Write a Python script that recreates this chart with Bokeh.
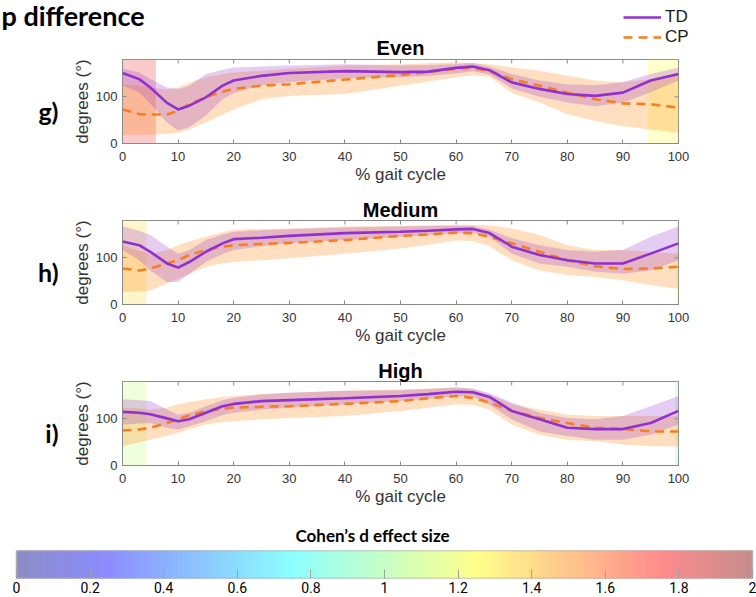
import numpy as np
from bokeh.plotting import figure
from bokeh.models import (Legend, LegendItem, LinearAxis, FixedTicker, Range1d, Label,
                          NumeralTickFormatter, CustomJSTickFormatter, Title)
from bokeh.layouts import column
from bokeh.embed import file_html
from bokeh.resources import INLINE

# ---------------- data ----------------
gait = [0, 3, 5, 8, 10, 12, 15, 18, 20, 25, 30, 40, 50, 55, 60, 63, 66, 70, 75, 80, 85, 90, 95, 100]

even_td_mean = [151, 138, 120, 87, 73, 81, 99, 124, 135, 145, 151, 155, 153, 154, 162, 165, 157, 131, 117, 106, 102, 109, 135, 149]
even_td_hi = [160, 152, 138, 120, 117, 124, 149, 158, 163, 165, 167, 170, 167, 168, 170, 173, 165, 149, 135, 127, 125, 131, 149, 163]
even_td_lo = [124, 110, 85, 45, 28, 35, 60, 95, 108, 125, 132, 140, 142, 145, 150, 155, 148, 118, 100, 88, 80, 88, 110, 135]
even_cp_mean = [73, 63, 62, 62, 70, 84, 99, 111, 117, 124, 127, 137, 147, 153, 160, 162, 155, 138, 124, 109, 95, 86, 84, 77]
even_cp_hi = [127, 124, 120, 115, 120, 130, 142, 149, 152, 156, 160, 167, 170, 172, 174, 172, 170, 163, 156, 145, 135, 131, 138, 149]
even_cp_lo = [19, 19, 19, 21, 23, 30, 45, 62, 73, 95, 102, 106, 124, 133, 142, 146, 143, 109, 88, 63, 48, 37, 30, 23]

medium_td_mean = [135, 127, 113, 88, 79, 91, 113, 131, 140, 143, 147, 153, 156, 158, 161, 162, 153, 124, 106, 95, 88, 88, 109, 131]
medium_td_hi = [167, 158, 149, 124, 109, 117, 138, 150, 156, 159, 161, 165, 167, 168, 169, 168, 160, 142, 127, 117, 113, 117, 145, 167]
medium_td_lo = [117, 95, 73, 48, 48, 66, 91, 108, 117, 125, 131, 138, 145, 149, 153, 154, 145, 109, 88, 81, 70, 66, 73, 95]
medium_cp_mean = [77, 73, 77, 88, 95, 106, 117, 124, 127, 130, 132, 138, 147, 150, 154, 153, 145, 131, 113, 95, 82, 76, 77, 81]
medium_cp_hi = [127, 115, 109, 117, 127, 135, 145, 155, 160, 162, 163, 167, 168, 170, 171, 171, 170, 163, 149, 127, 117, 117, 113, 109]
medium_cp_lo = [27, 28, 30, 45, 55, 65, 81, 88, 91, 95, 99, 109, 120, 128, 137, 136, 125, 95, 73, 63, 59, 52, 41, 34]

high_td_mean = [115, 113, 110, 101, 95, 99, 113, 127, 132, 138, 140, 144, 149, 153, 158, 157, 147, 117, 99, 81, 78, 78, 91, 117]
high_td_hi = [142, 140, 138, 120, 109, 113, 127, 140, 145, 152, 156, 160, 161, 164, 167, 165, 155, 135, 113, 102, 99, 106, 127, 149]
high_td_lo = [88, 90, 91, 81, 77, 84, 95, 108, 113, 120, 124, 131, 138, 143, 149, 149, 130, 99, 73, 63, 55, 55, 66, 88]
high_cp_mean = [75, 77, 81, 91, 99, 107, 117, 122, 124, 126, 127, 132, 138, 144, 149, 145, 135, 117, 102, 91, 81, 78, 73, 73]
high_cp_hi = [124, 122, 120, 124, 131, 136, 142, 147, 149, 153, 156, 160, 163, 165, 167, 164, 152, 131, 120, 109, 106, 106, 106, 106]
high_cp_lo = [41, 50, 55, 63, 70, 78, 88, 93, 95, 99, 102, 106, 117, 124, 131, 130, 120, 88, 66, 55, 52, 45, 41, 41]

# significant regions: start, end, Cohen's d
even_reg_start = [0, 94.4]
even_reg_end = [6, 100]
even_reg_d = [1.8, 1.25]
medium_reg_start = [0, 99.6]
medium_reg_end = [4.3, 100]
medium_reg_d = [1.35, 1.1]
high_reg_start = [0, 99.4]
high_reg_end = [4.3, 100]
high_reg_d = [1.1, 0.95]

x_ticks = [0, 10, 20, 30, 40, 50, 60, 70, 80, 90, 100]
y_ticks = [0, 100]
cb_ticks = [0, 0.2, 0.4, 0.6, 0.8, 1.0, 1.2, 1.4, 1.6, 1.8, 2.0]
D_MIN, D_MAX = 0, 2

TD_COLOR = "#9030d0"
CP_COLOR = "#f57f20"
AX_GRAY = "#8a8a8a"
LBL = "#333333"
FONT = "Liberation Sans"
XMAX, YMAX = 100, 180
W = 756


def jet(v, alpha):
    x = min(max(v / 2.0, 0.0), 1.0)
    r = min(max(1.5 - abs(4 * x - 3), 0.0), 1.0)
    g = min(max(1.5 - abs(4 * x - 2), 0.0), 1.0)
    b = min(max(1.5 - abs(4 * x - 1), 0.0), 1.0)
    c = [int(round(255 * (1 - alpha) + 255 * ch * alpha)) for ch in (r, g, b)]
    return "#%02x%02x%02x" % tuple(c)


def panel_title(text):
    return Title(text=text, align="center", text_font=FONT, text_font_size="20px",
                 text_font_style="bold", text_color="#000000", standoff=0)


def make_panel(title, letter, td_m, td_lo, td_hi, cp_m, cp_lo, cp_hi,
               rs, re_, rd, height, border_top, border_bottom):
    p = figure(width=W, height=height, x_range=Range1d(0, XMAX), y_range=Range1d(0, YMAX),
               output_backend="svg", toolbar_location=None,
               min_border_left=122, min_border_right=78,
               min_border_top=border_top, min_border_bottom=border_bottom)
    if title is not None:
        p.title = panel_title(title)
    else:
        p.title_location = None
    p.grid.visible = False
    p.outline_line_color = AX_GRAY

    # significance shading (Cohen's d colour)
    p.quad(left=rs, right=re_, bottom=0, top=YMAX,
           fill_color=[jet(d, 0.45) for d in rd], fill_alpha=0.45, line_color=None)
    # SD bands
    p.varea(x=gait, y1=cp_lo, y2=cp_hi, fill_color="#ff8000", fill_alpha=0.25)
    p.varea(x=gait, y1=td_lo, y2=td_hi, fill_color="#9933cc", fill_alpha=0.25)
    p.line(gait, cp_m, line_color=CP_COLOR, line_width=2.6, line_dash="9 6")
    p.line(gait, td_m, line_color=TD_COLOR, line_width=2.6)

    for ax in (p.xaxis[0], p.yaxis[0]):
        ax.major_tick_in = 4
        ax.major_tick_out = 0
        ax.minor_tick_line_color = None
        ax.axis_line_color = AX_GRAY
        ax.major_tick_line_color = AX_GRAY
        ax.major_label_text_font = FONT
        ax.major_label_text_font_size = "13px"
        ax.major_label_text_color = LBL
        ax.axis_label_text_font = FONT
        ax.axis_label_text_font_size = "17px"
        ax.axis_label_text_font_style = "normal"
        ax.axis_label_text_color = LBL
    p.xaxis.ticker = FixedTicker(ticks=x_ticks)
    p.yaxis.ticker = FixedTicker(ticks=y_ticks)
    p.xaxis.axis_label = "% gait cycle"
    p.yaxis.axis_label = "degrees (°)"
    p.xaxis.major_label_standoff = 8
    p.xaxis.axis_label_standoff = 1
    p.yaxis.major_label_standoff = 5
    p.yaxis.axis_label_standoff = 1

    # inward ticks on the top and right edges of the box
    p.ray(x=x_ticks, y=YMAX, length=4, angle=-np.pi / 2, length_units="screen",
          line_color=AX_GRAY, line_width=1)
    p.ray(x=XMAX, y=y_ticks, length=4, angle=np.pi, length_units="screen",
          line_color=AX_GRAY, line_width=1)

    # panel letter, drawn as the single label of an outer left axis
    letter_axis = LinearAxis(ticker=FixedTicker(ticks=[70]),
                             formatter=CustomJSTickFormatter(args=dict(t=letter), code="return t;"),
                             axis_line_color=None, major_tick_line_color=None,
                             minor_tick_line_color=None, major_label_standoff=5,
                             major_label_text_font="Lato", major_label_text_font_style="bold",
                             major_label_text_font_size="25px", major_label_text_color="#000000")
    p.add_layout(letter_axis, "left")
    return p


# ---------------- header: heading, legend, first panel title ----------------
HEAD_H = 57
head = figure(width=W, height=HEAD_H, x_range=Range1d(0, W), y_range=Range1d(HEAD_H, 0),
              output_backend="svg", toolbar_location=None, min_border=0,
              min_border_left=0, min_border_right=0, min_border_top=0, min_border_bottom=0)
head.title_location = None
head.axis.visible = False
head.grid.visible = False
head.outline_line_color = None
td_key = head.line(x=[np.nan], y=[np.nan], line_color=TD_COLOR, line_width=2.6)
cp_key = head.line(x=[np.nan], y=[np.nan], line_color=CP_COLOR, line_width=2.6, line_dash="9 6")
legend = Legend(items=[LegendItem(label="TD", renderers=[td_key]),
                       LegendItem(label="CP", renderers=[cp_key])],
                location=(623, 10), border_line_color=None, background_fill_alpha=0,
                label_text_font=FONT, label_text_font_size="17px", label_text_color="#1a1a1a",
                glyph_width=38, glyph_height=20, label_height=20, spacing=0, padding=0,
                margin=0, label_standoff=4)
head.add_layout(legend)
head.add_layout(Label(x=1, y=15, text="p difference", text_font="Lato", text_font_style="bold",
                      text_font_size="27px", text_color="#000000",
                      text_align="left", text_baseline="middle"))
head.add_layout(Label(x=400, y=47, text="Even", text_font=FONT, text_font_style="bold",
                      text_font_size="20px", text_color="#000000",
                      text_align="center", text_baseline="middle"))

pg = make_panel(None, "g)", even_td_mean, even_td_lo, even_td_hi,
                even_cp_mean, even_cp_lo, even_cp_hi,
                even_reg_start, even_reg_end, even_reg_d, 196 - HEAD_H, 2, 53)
ph = make_panel("Medium", "h)", medium_td_mean, medium_td_lo, medium_td_hi,
                medium_cp_mean, medium_cp_lo, medium_cp_hi,
                medium_reg_start, medium_reg_end, medium_reg_d, 161, 24, 53)
pi = make_panel("High", "i)", high_td_mean, high_td_lo, high_td_hi,
                high_cp_mean, high_cp_lo, high_cp_hi,
                high_reg_start, high_reg_end, high_reg_d, 161, 24, 53)

# ---------------- colour bar ----------------
CB_LEFT, CB_RIGHT = 16, 752           # pixel extent of the bar
px_per = (CB_RIGHT - CB_LEFT) / (D_MAX - D_MIN)
cb = figure(width=W, height=79,
            x_range=Range1d(D_MIN - CB_LEFT / px_per, D_MAX + (W - CB_RIGHT) / px_per),
            y_range=Range1d(0, 1), output_backend="svg", toolbar_location=None,
            min_border=0, min_border_left=0, min_border_right=0,
            min_border_top=29, min_border_bottom=19)
cb.title = Title(text="Cohen’s d effect size", align="left", offset=295, text_font="Lato",
                 text_font_style="bold", text_font_size="17px", text_color="#000000", standoff=9)
cb.grid.visible = False
cb.yaxis.visible = False
cb.outline_line_color = None
n = 200
edges = np.linspace(D_MIN, D_MAX, n + 1)
cols = [jet((edges[i] + edges[i + 1]) / 2, 0.45) for i in range(n)]
cb.quad(left=edges[:-1], right=edges[1:], bottom=0, top=1, fill_color=cols, line_color=cols, line_width=1)
cb.quad(left=[D_MIN], right=[D_MAX], bottom=[0], top=[1], fill_color=None,
        line_color="#b0b0b0", line_width=1.5)
cb.xaxis.ticker = FixedTicker(ticks=cb_ticks)
cb.xaxis.formatter = NumeralTickFormatter(format="0.[0]")
cb.xaxis.major_tick_in = 9
cb.xaxis.major_tick_out = 0
cb.xaxis.minor_tick_line_color = None
cb.xaxis.axis_line_color = None
cb.xaxis.major_tick_line_color = "#a0a0a0"
cb.xaxis.major_label_standoff = 3
cb.xaxis.major_label_text_font = "Roboto"
cb.xaxis.major_label_text_font_size = "14px"
cb.xaxis.major_label_text_color = "#000000"

layout = column(head, column(pg, ph, pi, spacing=0), cb, spacing=0)
open("out.html", "w").write(file_html(layout, INLINE))
